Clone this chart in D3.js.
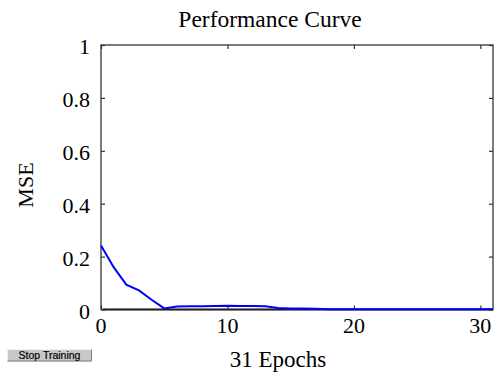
<!DOCTYPE html>
<html>
<head>
<meta charset="utf-8">
<script src="https://cdn.jsdelivr.net/npm/d3@7"></script>
<style>
  html, body { margin: 0; padding: 0; background: #fff; }
  svg { display: block; }
  .serif { font-family: "Liberation Serif", "Times New Roman", serif; fill: #000; }
</style>
</head>
<body>
<svg id="chart" width="496" height="376"></svg>
<script>
// Training error per epoch (MSE), epochs 0..31
const epochs = d3.range(0, 32);
const mse = [0.242, 0.160, 0.094, 0.072, 0.037, 0.004, 0.011, 0.012, 0.012, 0.013,
             0.014, 0.013, 0.013, 0.012, 0.006, 0.004, 0.004, 0.003, 0.001, 0.001,
             0.001, 0.001, 0.001, 0.001, 0.001, 0.001, 0.001, 0.001, 0.001, 0.001,
             0.001, 0.001];
const goal = 0;
const xTicks = [0, 10, 20, 30];
const yTicks = [0, 0.2, 0.4, 0.6, 0.8, 1];
const yTickLabels = ["0", "0.2", "0.4", "0.6", "0.8", "1"];

const svg = d3.select("#chart");
const plotLeft = 101, plotRight = 493, plotTop = 45, plotBottom = 309.5;
const lastEpoch = epochs[epochs.length - 1];

const x = d3.scaleLinear().domain([0, lastEpoch]).range([plotLeft, plotRight]);
const y = d3.scaleLinear().domain([0, 1]).range([plotBottom, plotTop]);

// Goal line (red), mostly covered by the bottom axis
svg.append("line")
  .attr("x1", x(0)).attr("x2", x(lastEpoch))
  .attr("y1", y(goal)).attr("y2", y(goal))
  .attr("stroke", "#ff0000").attr("stroke-width", 1);

// Frame
svg.append("rect")
  .attr("x", plotLeft).attr("y", plotTop)
  .attr("width", plotRight - plotLeft).attr("height", plotBottom - plotTop)
  .attr("fill", "none").attr("stroke", "#333").attr("stroke-width", 1.3);
svg.append("line")
  .attr("x1", plotLeft + 2).attr("x2", plotRight)
  .attr("y1", plotBottom).attr("y2", plotBottom)
  .attr("stroke", "#222").attr("stroke-width", 2);

// Inward ticks on all four sides
const tickLen = 4;
const xAxisB = d3.axisBottom(x).tickValues(xTicks).tickSize(-tickLen).tickFormat("");
const xAxisT = d3.axisTop(x).tickValues(xTicks).tickSize(-tickLen).tickFormat("");
const yAxisL = d3.axisLeft(y).tickValues(yTicks).tickSize(-tickLen).tickFormat("");
const yAxisR = d3.axisRight(y).tickValues(yTicks).tickSize(-tickLen).tickFormat("");
[[xAxisB, `translate(0,${plotBottom})`], [xAxisT, `translate(0,${plotTop})`],
 [yAxisL, `translate(${plotLeft},0)`], [yAxisR, `translate(${plotRight},0)`]].forEach(([ax, tr]) => {
  const g = svg.append("g").attr("transform", tr).call(ax);
  g.select(".domain").remove();
  g.selectAll(".tick line").attr("stroke", "#333").attr("stroke-width", 1.2);
});

// Performance curve, on top of the frame
const line = d3.line().x((d, i) => x(epochs[i])).y(d => y(d));
svg.append("path")
  .datum(mse)
  .attr("d", line)
  .attr("fill", "none")
  .attr("stroke", "#0000ff")
  .attr("stroke-width", 2);

// Tick labels
svg.append("g").selectAll("text")
  .data(xTicks).join("text")
  .attr("class", "serif")
  .attr("x", d => x(d)).attr("y", 333)
  .attr("text-anchor", "middle")
  .attr("font-size", 22)
  .text(d => d);

svg.append("g").selectAll("text")
  .data(yTicks).join("text")
  .attr("class", "serif")
  .attr("x", 90).attr("y", d => y(d) + 9)
  .attr("text-anchor", "end")
  .attr("font-size", 22)
  .text((d, i) => yTickLabels[i]);

// Title and axis labels
svg.append("text").attr("class", "serif")
  .attr("x", 270).attr("y", 27)
  .attr("text-anchor", "middle").attr("font-size", 23.5)
  .text("Performance Curve");

svg.append("text").attr("class", "serif")
  .attr("x", 278).attr("y", 367)
  .attr("text-anchor", "middle").attr("font-size", 23)
  .text(`${lastEpoch} Epochs`);

svg.append("text").attr("class", "serif")
  .attr("transform", "translate(33,185) rotate(-90)")
  .attr("text-anchor", "middle").attr("font-size", 22)
  .text("MSE");

// Stop Training button
const btn = svg.append("g").attr("transform", "translate(7,349)");
btn.append("rect").attr("width", 85).attr("height", 12.5).attr("fill", "#c8c8c8");
btn.append("path").attr("d", "M0.5,12 V0.5 H84.5").attr("fill", "none").attr("stroke", "#f0f0f0");
btn.append("path").attr("d", "M0.5,12 H84.5 V0.5").attr("fill", "none").attr("stroke", "#808080");
btn.append("text")
  .attr("x", 42.5).attr("y", 10)
  .attr("text-anchor", "middle")
  .attr("font-family", "Liberation Sans, Arial, sans-serif")
  .attr("font-size", 10.5)
  .attr("fill", "#000")
  .attr("stroke", "#000").attr("stroke-width", 0.2)
  .text("Stop Training");
</script>
</body>
</html>
